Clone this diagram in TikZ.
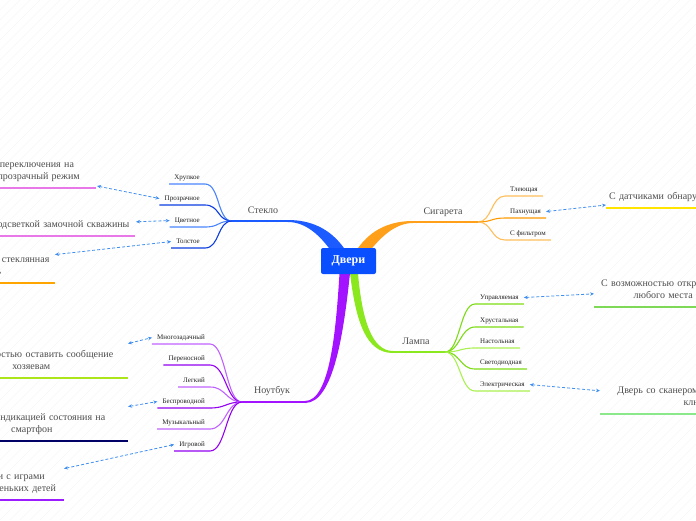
\documentclass[tikz,border=0pt]{standalone}
\usepackage{fontspec}
\setmainfont{Liberation Serif}
\usetikzlibrary{arrows.meta, backgrounds}

\definecolor{rootblue}{HTML}{0A4FFF}
\definecolor{glassc}{HTML}{1C5BFF}
\definecolor{glassA}{HTML}{4A84FF}
\definecolor{glassB}{HTML}{0B3DE0}
\definecolor{cigc}{HTML}{FF9F1A}
\definecolor{cigA}{HTML}{FFBE5C}
\definecolor{cigB}{HTML}{FF9900}
\definecolor{lampc}{HTML}{8CE81E}
\definecolor{lampA}{HTML}{AAF050}
\definecolor{lampB}{HTML}{7CDB14}
\definecolor{lapc}{HTML}{A313FF}
\definecolor{lapA}{HTML}{C062FF}
\definecolor{lapB}{HTML}{9400F0}
\definecolor{pinkul}{HTML}{E878E8}
\definecolor{orangeul}{HTML}{FFA500}
\definecolor{limeul}{HTML}{AEE51A}
\definecolor{navyul}{HTML}{000066}
\definecolor{purpleul}{HTML}{9B1CFF}
\definecolor{yellowul}{HTML}{FFE500}
\definecolor{greenul}{HTML}{7ED957}
\definecolor{lgreenul}{HTML}{8BE98B}
\definecolor{linkblue}{HTML}{3F8EF0}
\definecolor{textgray}{HTML}{4D4D4D}
\definecolor{textdark}{HTML}{222222}
\definecolor{hatch}{HTML}{F6F6F6}

\begin{document}
\begin{tikzpicture}[
    x=1pt, y=-1pt,
    root/.style={rectangle, rounded corners=2pt, fill=rootblue, text=white, font=\bfseries\fontsize{12}{14}\selectfont, minimum width=55pt, minimum height=26pt, inner sep=2pt},
    topic/.style={font=\fontsize{10}{12}\selectfont, text=textgray, inner sep=0pt},
    subL/.style={anchor=south east, font=\fontsize{7}{8}\selectfont, text=textdark, inner xsep=5pt, inner ysep=3pt, text height=5pt, text depth=1.5pt},
    subR/.style={subL, anchor=south west},
    note/.style={font=\fontsize{10}{12}\selectfont, text=textgray, align=center, inner xsep=0pt, inner ysep=5pt},
    ul/.style={line width=1.1pt},
    twig/.style={line width=1.1pt},
    stem/.style={line width=1.8pt},
    link/.style={dash pattern=on 3pt off 2pt, linkblue, line width=0.8pt, {Stealth[length=4pt,width=3.5pt]}-{Stealth[length=4pt,width=3.5pt]}}
]
    \useasboundingbox (0,0) rectangle (696,520);
    \clip (0,0) rectangle (696,520);

    % --- Central node ---
    \node[root] (root) at (348.5,261) {Двери};

    % --- Branch ends and junctions ---
    \coordinate (glassEnd) at (288,221);
    \coordinate (glassJ) at (232,221);
    \coordinate (cigEnd) at (413,222);
    \coordinate (cigJ) at (478,222);
    \coordinate (lampEnd) at (393,352);
    \coordinate (lampJ) at (445,352);
    \coordinate (lapEnd) at (305,402);
    \coordinate (lapJ) at (242,402);

    \begin{scope}[on background layer]
    % faint diagonal hatching of the canvas
    \begin{scope}
    \clip (0,0) rectangle (696,520);
    \foreach \i in {-520,-510,...,700}
        \draw[hatch, line width=0.6pt] (\i,520) -- (\i+520,0);
    \end{scope}
    % --- Tapered main branches (behind the central box) ---
    \fill[glassc] ([xshift=-4pt,yshift=-1pt]root.north) .. controls (330,228) and (310,220) .. ([yshift=1pt]glassEnd)
        -- ([yshift=-1pt]glassEnd) .. controls (306,222) and (320,236) .. ([xshift=-19pt,yshift=-1pt]root.north) -- cycle;
    \fill[cigc] ([xshift=9pt,yshift=-1pt]root.north) .. controls (372,228) and (392,221) .. ([yshift=1pt]cigEnd)
        -- ([yshift=-1pt]cigEnd) .. controls (396,223) and (382,236) .. ([xshift=23pt,yshift=-1pt]root.north) -- cycle;
    \fill[lapc] ([xshift=-9pt,yshift=1pt]root.south) .. controls (336,330) and (330,401) .. ([yshift=1pt]lapEnd)
        -- ([yshift=-1pt]lapEnd) .. controls (334,403) and (344,330) .. ([xshift=1.5pt,yshift=1pt]root.south) -- cycle;
    \fill[lampc] ([xshift=1.5pt,yshift=1pt]root.south) .. controls (356,322) and (366,353) .. ([yshift=-1pt]lampEnd)
        -- ([yshift=1pt]lampEnd) .. controls (372,351) and (362,320) .. ([xshift=9.5pt,yshift=1pt]root.south) -- cycle;
    \end{scope}

    \draw[stem, glassc] (glassEnd) -- (glassJ);
    \draw[stem, cigc] (cigEnd) -- (cigJ);
    \draw[stem, lampc] (lampEnd) -- (lampJ);
    \draw[stem, lapc] (lapEnd) -- (lapJ);

    % --- Topic labels ---
    \node[topic] (glass) at (263,210) {Стекло};
    \node[topic] (cig) at (443,212) {Сигарета};
    \node[topic] (lamp) at (416,341) {Лампа};
    \node[topic] (laptop) at (272,391) {Ноутбук};

    % --- Стекло ---
    \node[subL] (g1) at (205,184) {Хрупкое};
    \node[subL] (g2) at (205,205) {Прозрачное};
    \node[subL] (g3) at (205,227) {Цветное};
    \node[subL] (g4) at (205,248) {Толстое};
    \draw[twig, glassA] (glassJ) .. controls +(-15,0) and +(15,0) .. (g1.south east) -- (g1.south west);
    \draw[twig, glassB] (glassJ) .. controls +(-15,0) and +(15,0) .. (g2.south east) -- (g2.south west);
    \draw[twig, glassA] (glassJ) .. controls +(-15,0) and +(15,0) .. (g3.south east) -- (g3.south west);
    \draw[twig, glassB] (glassJ) .. controls +(-15,0) and +(15,0) .. (g4.south east) -- (g4.south west);

    % --- Сигарета ---
    \node[subR] (c1) at (505,196) {Тлеющая};
    \node[subR] (c2) at (505,218) {Пахнущая};
    \node[subR] (c3) at (505,240) {С фильтром};
    \draw[twig, cigA] (cigJ) .. controls +(14,0) and +(-14,0) .. (c1.south west) -- (c1.south east);
    \draw[twig, cigB] (cigJ) .. controls +(14,0) and +(-14,0) .. (c2.south west) -- (c2.south east);
    \draw[twig, cigA] (cigJ) .. controls +(14,0) and +(-14,0) .. (c3.south west) -- (c3.south east);

    % --- Лампа ---
    \node[subR] (l1) at (475,304) {Управляемая};
    \node[subR] (l2) at (475,327) {Хрустальная};
    \node[subR] (l3) at (475,348) {Настольная};
    \node[subR] (l4) at (475,369) {Светодиодная};
    \node[subR] (l5) at (475,391) {Электрическая};
    \draw[twig, lampB] (lampJ) .. controls +(15,0) and +(-15,0) .. (l1.south west) -- (l1.south east);
    \draw[twig, lampB] (lampJ) .. controls +(15,0) and +(-15,0) .. (l2.south west) -- (l2.south east);
    \draw[twig, lampA] (lampJ) .. controls +(15,0) and +(-15,0) .. (l3.south west) -- (l3.south east);
    \draw[twig, lampB] (lampJ) .. controls +(15,0) and +(-15,0) .. (l4.south west) -- (l4.south east);
    \draw[twig, lampA] (lampJ) .. controls +(15,0) and +(-15,0) .. (l5.south west) -- (l5.south east);

    % --- Ноутбук ---
    \node[subL] (p1) at (210,344) {Многозадачный};
    \node[subL] (p2) at (210,365) {Переносной};
    \node[subL] (p3) at (210,387) {Легкий};
    \node[subL] (p4) at (210,408) {Беспроводной};
    \node[subL] (p5) at (210,429) {Музыкальный};
    \node[subL] (p6) at (210,451) {Игровой};
    \draw[twig, lapA] (lapJ) .. controls +(-16,0) and +(16,0) .. (p1.south east) -- (p1.south west);
    \draw[twig, lapB] (lapJ) .. controls +(-16,0) and +(16,0) .. (p2.south east) -- (p2.south west);
    \draw[twig, lapA] (lapJ) .. controls +(-16,0) and +(16,0) .. (p3.south east) -- (p3.south west);
    \draw[twig, lapB] (lapJ) .. controls +(-16,0) and +(16,0) .. (p4.south east) -- (p4.south west);
    \draw[twig, lapA] (lapJ) .. controls +(-16,0) and +(16,0) .. (p5.south east) -- (p5.south west);
    \draw[twig, lapB] (lapJ) .. controls +(-16,0) and +(16,0) .. (p6.south east) -- (p6.south west);

    % --- Floating notes ---
    \node[note, anchor=south east, text width=173pt] (n1) at (96,188) {\strut С функцией переключения на\\матовый или прозрачный режим\strut};
    \node[note, anchor=south east, text width=158pt] (n2) at (135,236) {\strut С подсветкой замочной скважины\strut};
    \node[note, anchor=south east, text width=131pt] (n3) at (55,283) {\strut Противоударная стеклянная\\дверь\strut};
    \node[note, anchor=south east, text width=193pt] (n4) at (128,378) {\strut С возможностью оставить сообщение\\хозяевам\strut};
    \node[note, anchor=south east, text width=192pt] (n5) at (128,441) {\strut Дверь с индикацией состояния на\\смартфон\strut};
    \node[note, anchor=south east, text width=106pt] (n6) at (64,500) {\strut Двери с играми\\для маленьких детей\strut};
    \node[note, anchor=south west, text width=146pt] (n7) at (606,208) {\strut С датчиками обнаружения дыма\strut};
    \node[note, anchor=south west, text width=138pt] (n8) at (594,307) {\strut С возможностью открытия с\\любого места\strut};
    \node[note, anchor=south west, text width=193pt] (n9) at (600,414) {\strut Дверь со сканером отпечатка вместо\\ключа\strut};

    \draw[ul, pinkul] (n1.south west) -- (n1.south east);
    \draw[ul, pinkul] (n2.south west) -- (n2.south east);
    \draw[ul, orangeul] (n3.south west) -- (n3.south east);
    \draw[ul, limeul] (n4.south west) -- (n4.south east);
    \draw[ul, navyul] (n5.south west) -- (n5.south east);
    \draw[ul, purpleul] (n6.south west) -- (n6.south east);
    \draw[ul, yellowul] (n7.south west) -- (n7.south east);
    \draw[ul, greenul] (n8.south west) -- (n8.south east);
    \draw[ul, lgreenul] (n9.south west) -- (n9.south east);

    % --- Dashed links between notes and sub-topics ---
    \draw[link] ([xshift=1pt,yshift=2pt]n1.south east) -- (g2.west);
    \draw[link] ([xshift=1pt,yshift=3pt]n2.east) -- (g3.west);
    \draw[link] ([yshift=-6pt]n3.north east) -- (g4.west);
    \draw[link] (c2.east) -- ([yshift=3pt]n7.south west);
    \draw[link] (l1.east) -- ([yshift=-4pt]n8.west);
    \draw[link] (l5.east) -- ([yshift=6pt]n9.west);
    \draw[link] (n4.north east) -- (p1.west);
    \draw[link] (n5.north east) -- (p4.west);
    \draw[link] ([yshift=-3pt]n6.north east) -- (p6.west);
\end{tikzpicture}
\end{document}
